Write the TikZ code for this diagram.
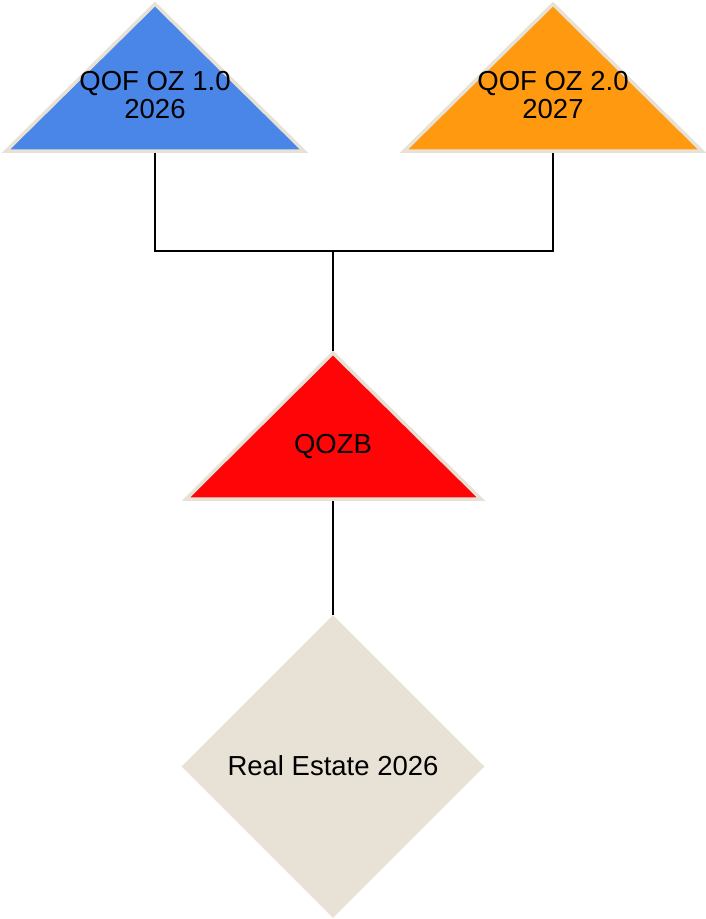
\documentclass[tikz,border=0pt]{standalone}
\usepackage{fontspec}
\setmainfont{Liberation Sans}
\usetikzlibrary{shapes.geometric}

\definecolor{tribeige}{HTML}{E8E1D5}
\definecolor{ozblue}{HTML}{4A86E8}
\definecolor{ozorange}{HTML}{FF9A10}
\definecolor{ozred}{HTML}{FF0508}

\tikzset{
  tri/.style={draw=tribeige, line width=3.5pt, line join=miter},
  lbl/.style={font=\fontsize{27.5}{28.5}\selectfont, align=center, inner sep=0pt},
  link/.style={draw=black, line width=2pt},
}

\begin{document}
\begin{tikzpicture}[x=1pt,y=-1pt]
  \useasboundingbox (0,0) rectangle (705,919);

  % top-left fund triangle
  \path[tri, fill=ozblue] (6,151) -- (155,4) -- (304,151) -- cycle;
  \coordinate (t1b) at (155,153);
  \node[lbl] (q1) at (155,95) {QOF OZ 1.0\\2026};

  % top-right fund triangle
  \path[tri, fill=ozorange] (404,151) -- (553,4) -- (702,151) -- cycle;
  \coordinate (t2b) at (553,153);
  \node[lbl] (q2) at (553,95) {QOF OZ 2.0\\2027};

  % middle business triangle
  \path[tri, fill=ozred] (186,499) -- (333,353) -- (481,499) -- cycle;
  \coordinate (t3a) at (333,351);
  \coordinate (t3b) at (333,501);
  \node[lbl, anchor=base] (qozb) at (333,453) {QOZB};

  % bottom asset diamond
  \node[diamond, fill=tribeige, minimum width=303pt, minimum height=303pt,
        inner sep=0pt, aspect=1] (re) at (333,766.5) {};
  \node[lbl, anchor=base] (retxt) at (333,775) {Real Estate 2026};

  % junction of the two funds
  \coordinate (jl) at (155,250.5);
  \coordinate (jr) at (553,250.5);
  \coordinate (jm) at (333,250.5);

  \draw[link] (t1b) -- (jl) -- (jr) -- (t2b);
  \draw[link] (jm) -- (t3a);
  \draw[link] (t3b) -- (re.north);
\end{tikzpicture}
\end{document}
